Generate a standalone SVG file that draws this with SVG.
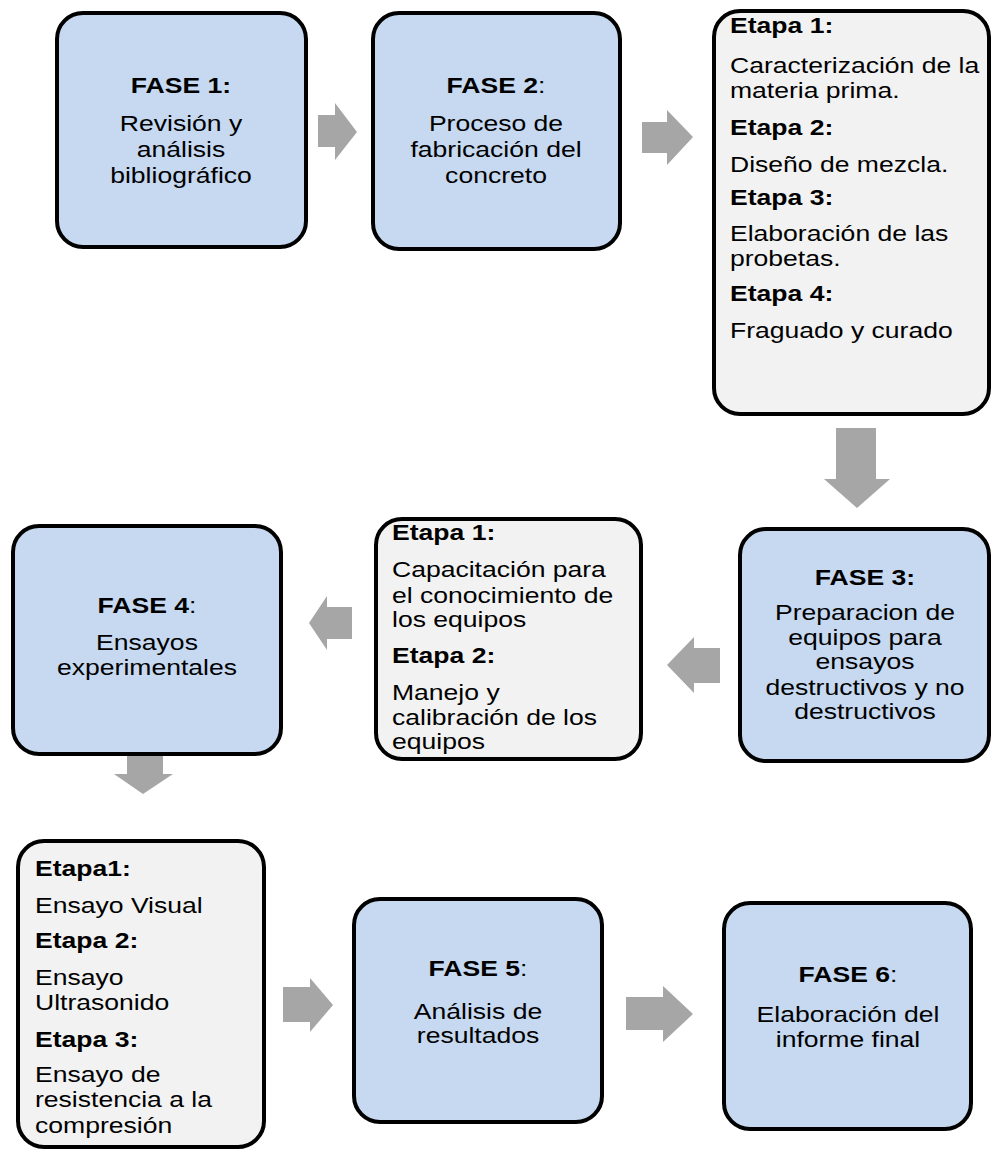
<svg xmlns="http://www.w3.org/2000/svg" width="993" height="1150" viewBox="0 0 993 1150">
<style>
.fase{fill:#c6d9f1;stroke:#000;stroke-width:4}
.etapa{fill:#f2f2f2;stroke:#000;stroke-width:4}
.arrow{fill:#a6a6a6;stroke:none}
text{font-family:"Liberation Sans",Arial,sans-serif;font-size:22.5px;fill:#000}
.b{font-weight:bold}
.n{font-weight:normal}
.c{text-anchor:middle}
</style>
<rect width="993" height="1150" fill="#fff"/>
<g id="connectors">
<polygon class="arrow" points="318,115 335,115 335,103 357,132 335,160 335,147 318,147"/>
<polygon class="arrow" points="642,122 667,122 667,110 693,137 667,165 667,153 642,153"/>
<polygon class="arrow" points="836,428 876,428 876,479 890,479 857,508 824,479 836,479"/>
<polygon class="arrow" points="720,648 694,648 694,637 667,665 694,693 694,683 720,683"/>
<polygon class="arrow" points="352,607 327,607 327,596 309,623 327,650 327,639 352,639"/>
<polygon class="arrow" points="127,755 163,755 163,774 173,774 143,794 114,774 127,774"/>
<polygon class="arrow" points="283,987 310,987 310,978 333,1005 310,1032 310,1022 283,1022"/>
<polygon class="arrow" points="626,997 663,997 663,986 693,1014 663,1042 663,1030 626,1030"/>
</g>
<g id="fase1">
<rect class="fase" x="57" y="13" width="249" height="234" rx="26"/>
<g transform="translate(181,0) scale(1.18,1)">
<text class="c b" x="0" y="93">FASE 1:</text>
<text class="c" x="0" y="131">Revisión y</text>
<text class="c" x="0" y="157">análisis</text>
<text class="c" x="0" y="183">bibliográfico</text>
</g>
</g>
<g id="fase2">
<rect class="fase" x="373" y="13" width="247" height="236" rx="26"/>
<g transform="translate(496,0) scale(1.18,1)">
<text class="c b" x="0" y="93">FASE 2<tspan class="n">:</tspan></text>
<text class="c" x="0" y="131">Proceso de</text>
<text class="c" x="0" y="157">fabricación del</text>
<text class="c" x="0" y="183">concreto</text>
</g>
</g>
<g id="etapas-fase2">
<rect class="etapa" x="714" y="11" width="275" height="403" rx="26"/>
<g transform="translate(730,0) scale(1.18,1)">
<text class="b" x="0" y="33">Etapa 1:</text>
<text x="0" y="73">Caracterización de la</text>
<text x="0" y="98">materia prima.</text>
<text class="b" x="0" y="135">Etapa 2:</text>
<text x="0" y="172">Diseño de mezcla.</text>
<text class="b" x="0" y="205">Etapa 3:</text>
<text x="0" y="241">Elaboración de las</text>
<text x="0" y="266">probetas.</text>
<text class="b" x="0" y="301">Etapa 4:</text>
<text x="0" y="338">Fraguado y curado</text>
</g>
</g>
<g id="fase3">
<rect class="fase" x="740" y="529" width="249" height="232" rx="26"/>
<g transform="translate(865,0) scale(1.18,1)">
<text class="c b" x="0" y="585">FASE 3:</text>
<text class="c" x="0" y="620">Preparacion de</text>
<text class="c" x="0" y="645">equipos para</text>
<text class="c" x="0" y="669">ensayos</text>
<text class="c" x="0" y="695">destructivos y no</text>
<text class="c" x="0" y="719">destructivos</text>
</g>
</g>
<g id="etapas-fase3">
<rect class="etapa" x="376" y="519" width="265" height="240" rx="26"/>
<g transform="translate(392,0) scale(1.18,1)">
<text class="b" x="0" y="540">Etapa 1:</text>
<text x="0" y="577">Capacitación para</text>
<text x="0" y="603">el conocimiento de</text>
<text x="0" y="627">los equipos</text>
<text class="b" x="0" y="663">Etapa 2:</text>
<text x="0" y="700">Manejo y</text>
<text x="0" y="725">calibración de los</text>
<text x="0" y="749">equipos</text>
</g>
</g>
<g id="fase4">
<rect class="fase" x="13" y="526" width="268" height="228" rx="26"/>
<g transform="translate(147,0) scale(1.18,1)">
<text class="c b" x="0" y="613">FASE 4<tspan class="n">:</tspan></text>
<text class="c" x="0" y="650">Ensayos</text>
<text class="c" x="0" y="675">experimentales</text>
</g>
</g>
<g id="etapas-fase4">
<rect class="etapa" x="18" y="841" width="246" height="306" rx="26"/>
<g transform="translate(35,0) scale(1.18,1)">
<text class="b" x="0" y="876">Etapa1:</text>
<text x="0" y="913"> Ensayo Visual</text>
<text class="b" x="0" y="948">Etapa 2:</text>
<text x="0" y="985">Ensayo</text>
<text x="0" y="1010">Ultrasonido</text>
<text class="b" x="0" y="1047">Etapa 3:</text>
<text x="0" y="1082">Ensayo de</text>
<text x="0" y="1107">resistencia a la</text>
<text x="0" y="1133">compresión</text>
</g>
</g>
<g id="fase5">
<rect class="fase" x="354" y="899" width="248" height="223" rx="26"/>
<g transform="translate(478,0) scale(1.18,1)">
<text class="c b" x="0" y="976">FASE 5<tspan class="n">:</tspan></text>
<text class="c" x="0" y="1019">Análisis de</text>
<text class="c" x="0" y="1043">resultados</text>
</g>
</g>
<g id="fase6">
<rect class="fase" x="724" y="903" width="247" height="226" rx="26"/>
<g transform="translate(848,0) scale(1.18,1)">
<text class="c b" x="0" y="982">FASE 6<tspan class="n">:</tspan></text>
<text class="c" x="0" y="1022">Elaboración del</text>
<text class="c" x="0" y="1047">informe final</text>
</g>
</g>
</svg>
